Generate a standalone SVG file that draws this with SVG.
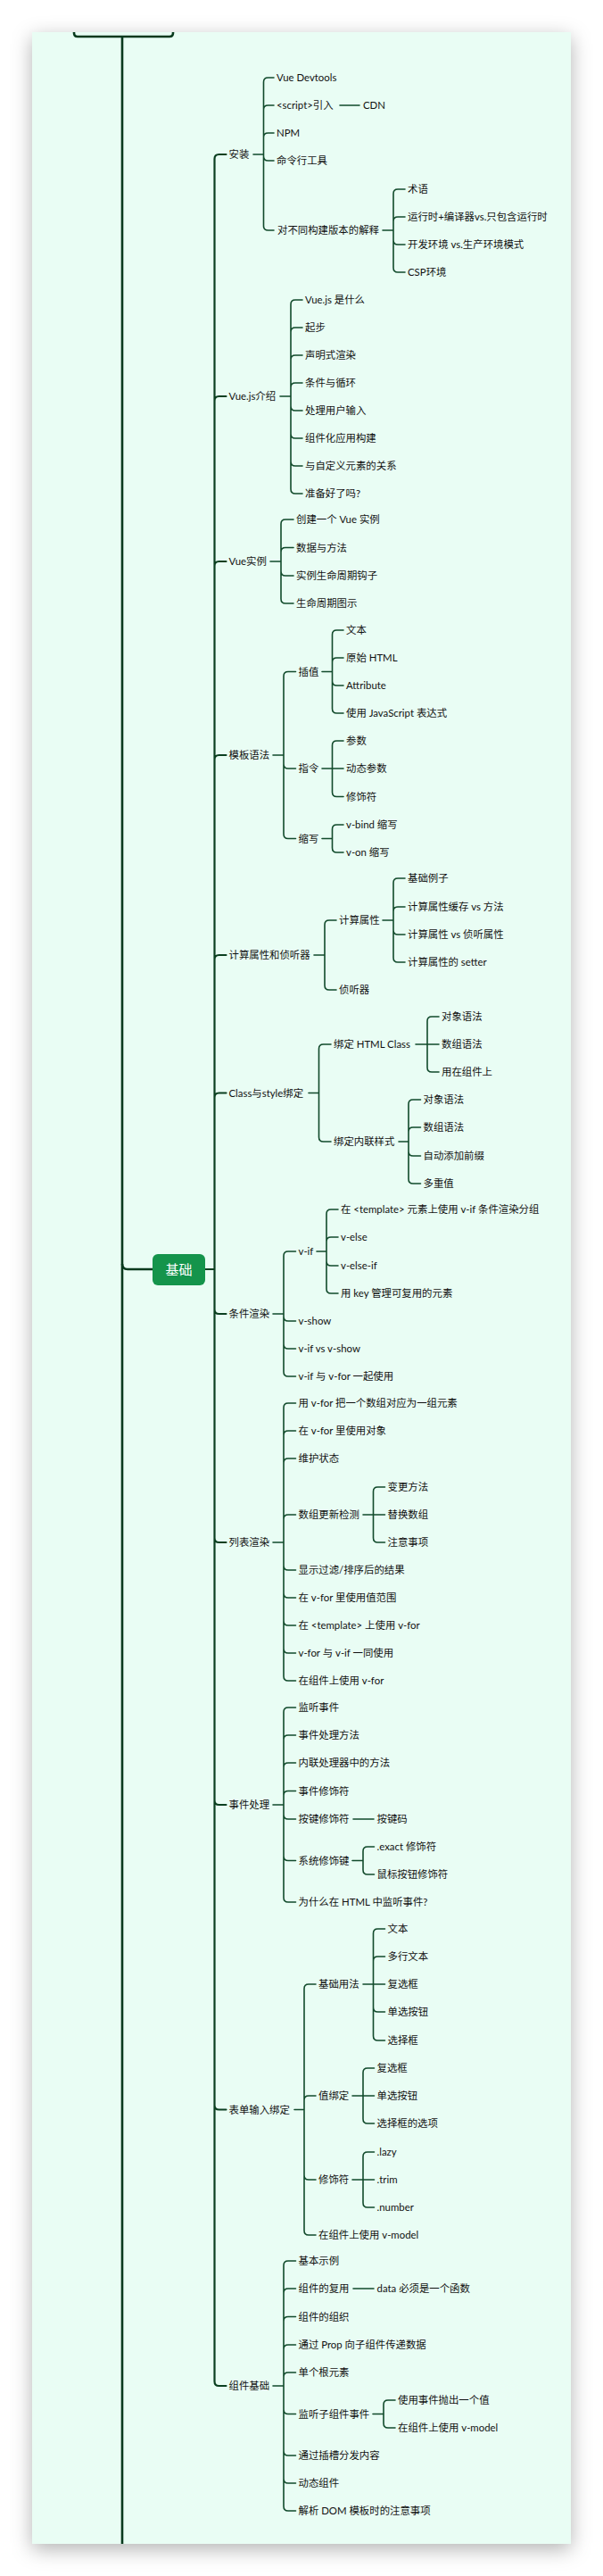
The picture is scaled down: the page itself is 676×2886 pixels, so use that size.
<svg xmlns="http://www.w3.org/2000/svg" width="676" height="2886" viewBox="0 0 676 2886">
<defs>
<filter id="sh" x="-10%" y="-3%" width="120%" height="106%">
<feDropShadow dx="0" dy="6" stdDeviation="11" flood-color="#000" flood-opacity="0.3"/>
</filter>
<clipPath id="pc"><rect x="36" y="36" width="604" height="2814"/></clipPath>
<style>
text{font-family:Lato,"Noto Sans CJK SC","Noto Sans",sans-serif;font-size:11.4px;fill:#111;}
.c{fill:none;stroke:#114a2b;stroke-width:1.6;stroke-linecap:round;}
.c1{fill:none;stroke:#0b3f20;stroke-width:2.2;stroke-linecap:round;}
.c0{fill:none;stroke:#083a1d;stroke-width:2.6;}
.root{fill:#fff;font-size:15px;}
</style>
</defs>
<rect width="676" height="2886" fill="#ffffff"/>
<rect x="36" y="36" width="604" height="2814" fill="#e9fdf4" filter="url(#sh)"/>
<g id="connectors" clip-path="url(#pc)">
<path class="c0" d="M83,30 V37 Q83,41 87,41 H190 Q194,41 194,37 V30"/>
<path class="c0" d="M137,41 V2860"/>
<path class="c0" d="M137,1416 Q137,1422 143,1422 H171"/>
<path class="c1" d="M230,1422 H240.5 M240.5,178 V2668
M240.5,178 Q240.5,173 245.5,173 H253.5
M240.5,449 Q240.5,444 245.5,444 H253.5
M240.5,634 Q240.5,629 245.5,629 H253.5
M240.5,851 Q240.5,846 245.5,846 H253.5
M240.5,1075 Q240.5,1070 245.5,1070 H253.5
M240.5,1229.5 Q240.5,1224.5 245.5,1224.5 H253.5
M240.5,1467 Q240.5,1472 245.5,1472 H253.5
M240.5,1723 Q240.5,1728 245.5,1728 H253.5
M240.5,2017 Q240.5,2022 245.5,2022 H253.5
M240.5,2358.5 Q240.5,2363.5 245.5,2363.5 H253.5
M240.5,2668 Q240.5,2673 245.5,2673 H253.5"/>
<path class="c" d="M284,173 H295.5 M295.5,92 V253
M295.5,92 Q295.5,87 300.5,87 H307
M295.5,123 Q295.5,118 300.5,118 H307
M295.5,154 Q295.5,149 300.5,149 H307
M295.5,175 Q295.5,180 300.5,180 H307
M295.5,253 Q295.5,258 300.5,258 H307
M381,118 H403
M429,258 H441 M441,217 V300
M441,217 Q441,212 446,212 H454
M441,248 Q441,243 446,243 H454
M441,269 Q441,274 446,274 H454
M441,300 Q441,305 446,305 H454"/>
<path class="c" d="M314,444 H326 M326,341 V548
M326,341 Q326,336 331,336 H339
M326,372 Q326,367 331,367 H339
M326,403 Q326,398 331,398 H339
M326,434 Q326,429 331,429 H339
M326,455 Q326,460 331,460 H339
M326,486 Q326,491 331,491 H339
M326,517 Q326,522 331,522 H339
M326,548 Q326,553 331,553 H339"/>
<path class="c" d="M303,629 H315 M315,587 V671
M315,587 Q315,582 320,582 H329
M315,618.5 Q315,613.5 320,613.5 H329
M315,640 Q315,645 320,645 H329
M315,671 Q315,676 320,676 H329"/>
<path class="c" d="M306,846 H318 M318,757.5 V934.5
M318,757.5 Q318,752.5 323,752.5 H331.5
M318,856 Q318,861 323,861 H331.5
M318,934.5 Q318,939.5 323,939.5 H331.5
M361,752.5 H372.5 M372.5,711 V794
M372.5,711 Q372.5,706 377.5,706 H385
M372.5,742 Q372.5,737 377.5,737 H385
M372.5,763 Q372.5,768 377.5,768 H385
M372.5,794 Q372.5,799 377.5,799 H385
M361,861 H385 M372.5,835 V887.5
M372.5,835 Q372.5,830 377.5,830 H385
M372.5,887.5 Q372.5,892.5 377.5,892.5 H385
M361,939.5 H372.5 M372.5,929 V950
M372.5,929 Q372.5,924 377.5,924 H385
M372.5,950 Q372.5,955 377.5,955 H385"/>
<path class="c" d="M352,1070 H364 M364,1036 V1104
M364,1036 Q364,1031 369,1031 H377
M364,1104 Q364,1109 369,1109 H377
M429,1031 H441 M441,989 V1073
M441,989 Q441,984 446,984 H454
M441,1021 Q441,1016 446,1016 H454
M441,1042 Q441,1047 446,1047 H454
M441,1073 Q441,1078 446,1078 H454"/>
<path class="c" d="M346,1224.5 H357.5 M357.5,1175 V1274
M357.5,1175 Q357.5,1170 362.5,1170 H371
M357.5,1274 Q357.5,1279 362.5,1279 H371
M466,1170 H492 M479,1144 V1196
M479,1144 Q479,1139 484,1139 H492
M479,1196 Q479,1201 484,1201 H492
M447,1279 H458 M458,1237 V1321
M458,1237 Q458,1232 463,1232 H471.5
M458,1268 Q458,1263 463,1263 H471.5
M458,1290 Q458,1295 463,1295 H471.5
M458,1321 Q458,1326 463,1326 H471.5"/>
<path class="c" d="M306,1472 H318 M318,1407 V1537
M318,1407 Q318,1402 323,1402 H331.5
M318,1475 Q318,1480 323,1480 H331.5
M318,1506 Q318,1511 323,1511 H331.5
M318,1537 Q318,1542 323,1542 H331.5
M355,1402 H366 M366,1360 V1444
M366,1360 Q366,1355 371,1355 H379
M366,1391 Q366,1386 371,1386 H379
M366,1413 Q366,1418 371,1418 H379
M366,1444 Q366,1449 371,1449 H379"/>
<path class="c" d="M306,1728 H318 M318,1577 V1878
M318,1577 Q318,1572 323,1572 H331.5
M318,1608 Q318,1603 323,1603 H331.5
M318,1639 Q318,1634 323,1634 H331.5
M318,1702 Q318,1697 323,1697 H331.5
M318,1754 Q318,1759 323,1759 H331.5
M318,1785 Q318,1790 323,1790 H331.5
M318,1816 Q318,1821 323,1821 H331.5
M318,1847 Q318,1852 323,1852 H331.5
M318,1878 Q318,1883 323,1883 H331.5
M407,1697 H431.5 M418.5,1671 V1723
M418.5,1671 Q418.5,1666 423.5,1666 H431.5
M418.5,1723 Q418.5,1728 423.5,1728 H431.5"/>
<path class="c" d="M306,2022 H318 M318,1918 V2126
M318,1918 Q318,1913 323,1913 H331.5
M318,1949 Q318,1944 323,1944 H331.5
M318,1980 Q318,1975 323,1975 H331.5
M318,2011.5 Q318,2006.5 323,2006.5 H331.5
M318,2033 Q318,2038 323,2038 H331.5
M318,2079.5 Q318,2084.5 323,2084.5 H331.5
M318,2126 Q318,2131 323,2131 H331.5
M396,2038 H419
M395,2084.5 H407 M407,2074 V2095
M407,2074 Q407,2069 412,2069 H419.5
M407,2095 Q407,2100 412,2100 H419.5"/>
<path class="c" d="M330,2363.5 H341 M341,2228 V2499
M341,2228 Q341,2223 346,2223 H354
M341,2353 Q341,2348 346,2348 H354
M341,2437 Q341,2442 346,2442 H354
M341,2499 Q341,2504 346,2504 H354
M407,2223 H431.5 M418.5,2166 V2281
M418.5,2166 Q418.5,2161 423.5,2161 H431.5
M418.5,2197 Q418.5,2192 423.5,2192 H431.5
M418.5,2249 Q418.5,2254 423.5,2254 H431.5
M418.5,2281 Q418.5,2286 423.5,2286 H431.5
M395,2348 H419.5 M407,2322 V2374
M407,2322 Q407,2317 412,2317 H419.5
M407,2374 Q407,2379 412,2379 H419.5
M395,2442 H419.5 M407,2416 V2468
M407,2416 Q407,2411 412,2411 H419.5
M407,2468 Q407,2473 412,2473 H419.5"/>
<path class="c" d="M306,2673 H318 M318,2538 V2808
M318,2538 Q318,2533 323,2533 H331.5
M318,2569 Q318,2564 323,2564 H331.5
M318,2600.5 Q318,2595.5 323,2595.5 H331.5
M318,2632 Q318,2627 323,2627 H331.5
M318,2663 Q318,2658 323,2658 H331.5
M318,2699.5 Q318,2704.5 323,2704.5 H331.5
M318,2746 Q318,2751 323,2751 H331.5
M318,2777 Q318,2782 323,2782 H331.5
M318,2808 Q318,2813 323,2813 H331.5
M396,2564 H419
M418,2704.5 H430 M430,2694 V2715
M430,2694 Q430,2689 435,2689 H443
M430,2715 Q430,2720 435,2720 H443"/>
</g>
<g id="n-jichu"><rect x="171" y="1405" width="59" height="35" rx="6" fill="#14944b"/><text class="root" x="200.5" y="1427.5" text-anchor="middle">基础</text></g>
<g id="n-anzhuang"><text x="256.5" y="177">安装</text></g>
<g id="n-az1"><text x="310" y="91">Vue Devtools</text></g>
<g id="n-az2"><text x="310" y="122">&lt;script&gt;引入</text></g>
<g id="n-az2-1"><text x="407" y="122">CDN</text></g>
<g id="n-az3"><text x="310" y="153">NPM</text></g>
<g id="n-az4"><text x="310" y="184">命令行工具</text></g>
<g id="n-az5"><text x="311" y="262">对不同构建版本的解释</text></g>
<g id="n-az5-1"><text x="457" y="216">术语</text></g>
<g id="n-az5-2"><text x="457" y="247">运行时+编译器vs.只包含运行时</text></g>
<g id="n-az5-3"><text x="457" y="278">开发环境 vs.生产环境模式</text></g>
<g id="n-az5-4"><text x="457" y="309">CSP环境</text></g>
<g id="n-intro"><text x="256.5" y="448">Vue.js介绍</text></g>
<g id="n-in1"><text x="342" y="340">Vue.js 是什么</text></g>
<g id="n-in2"><text x="342" y="371">起步</text></g>
<g id="n-in3"><text x="342" y="402">声明式渲染</text></g>
<g id="n-in4"><text x="342" y="433">条件与循环</text></g>
<g id="n-in5"><text x="342" y="464">处理用户输入</text></g>
<g id="n-in6"><text x="342" y="495">组件化应用构建</text></g>
<g id="n-in7"><text x="342" y="526">与自定义元素的关系</text></g>
<g id="n-in8"><text x="342" y="557">准备好了吗?</text></g>
<g id="n-inst"><text x="256.5" y="633">Vue实例</text></g>
<g id="n-is1"><text x="332" y="586">创建一个 Vue 实例</text></g>
<g id="n-is2"><text x="332" y="617.5">数据与方法</text></g>
<g id="n-is3"><text x="332" y="649">实例生命周期钩子</text></g>
<g id="n-is4"><text x="332" y="680">生命周期图示</text></g>
<g id="n-tpl"><text x="256.5" y="850">模板语法</text></g>
<g id="n-tp1"><text x="334.5" y="756.5">插值</text></g>
<g id="n-tp1-1"><text x="388" y="710">文本</text></g>
<g id="n-tp1-2"><text x="388" y="741">原始 HTML</text></g>
<g id="n-tp1-3"><text x="388" y="772">Attribute</text></g>
<g id="n-tp1-4"><text x="388" y="803">使用 JavaScript 表达式</text></g>
<g id="n-tp2"><text x="334.5" y="865">指令</text></g>
<g id="n-tp2-1"><text x="388" y="834">参数</text></g>
<g id="n-tp2-2"><text x="388" y="865">动态参数</text></g>
<g id="n-tp2-3"><text x="388" y="896.5">修饰符</text></g>
<g id="n-tp3"><text x="334.5" y="943.5">缩写</text></g>
<g id="n-tp3-1"><text x="388" y="928">v-bind 缩写</text></g>
<g id="n-tp3-2"><text x="388" y="959">v-on 缩写</text></g>
<g id="n-comp"><text x="256.5" y="1074">计算属性和侦听器</text></g>
<g id="n-cp1"><text x="380" y="1035">计算属性</text></g>
<g id="n-cp1-1"><text x="457" y="988">基础例子</text></g>
<g id="n-cp1-2"><text x="457" y="1020">计算属性缓存 vs 方法</text></g>
<g id="n-cp1-3"><text x="457" y="1051">计算属性 vs 侦听属性</text></g>
<g id="n-cp1-4"><text x="457" y="1082">计算属性的 setter</text></g>
<g id="n-cp2"><text x="380" y="1113">侦听器</text></g>
<g id="n-cls"><text x="256.5" y="1228.5">Class与style绑定</text></g>
<g id="n-cl1"><text x="374" y="1174">绑定 HTML Class</text></g>
<g id="n-cl1-1"><text x="495" y="1143">对象语法</text></g>
<g id="n-cl1-2"><text x="495" y="1174">数组语法</text></g>
<g id="n-cl1-3"><text x="495" y="1205">用在组件上</text></g>
<g id="n-cl2"><text x="374" y="1283">绑定内联样式</text></g>
<g id="n-cl2-1"><text x="474.5" y="1236">对象语法</text></g>
<g id="n-cl2-2"><text x="474.5" y="1267">数组语法</text></g>
<g id="n-cl2-3"><text x="474.5" y="1299">自动添加前缀</text></g>
<g id="n-cl2-4"><text x="474.5" y="1330">多重值</text></g>
<g id="n-cond"><text x="256.5" y="1476">条件渲染</text></g>
<g id="n-cd1"><text x="334.5" y="1406">v-if</text></g>
<g id="n-cd1-1"><text x="382" y="1359">在 &lt;template&gt; 元素上使用 v-if 条件渲染分组</text></g>
<g id="n-cd1-2"><text x="382" y="1390">v-else</text></g>
<g id="n-cd1-3"><text x="382" y="1422">v-else-if</text></g>
<g id="n-cd1-4"><text x="382" y="1453">用 key 管理可复用的元素</text></g>
<g id="n-cd2"><text x="334.5" y="1484">v-show</text></g>
<g id="n-cd3"><text x="334.5" y="1515">v-if vs v-show</text></g>
<g id="n-cd4"><text x="334.5" y="1546">v-if 与 v-for 一起使用</text></g>
<g id="n-list"><text x="256.5" y="1732">列表渲染</text></g>
<g id="n-ls1"><text x="334.5" y="1576">用 v-for 把一个数组对应为一组元素</text></g>
<g id="n-ls2"><text x="334.5" y="1607">在 v-for 里使用对象</text></g>
<g id="n-ls3"><text x="334.5" y="1638">维护状态</text></g>
<g id="n-ls4"><text x="334.5" y="1701">数组更新检测</text></g>
<g id="n-ls4-1"><text x="434.5" y="1670">变更方法</text></g>
<g id="n-ls4-2"><text x="434.5" y="1701">替换数组</text></g>
<g id="n-ls4-3"><text x="434.5" y="1732">注意事项</text></g>
<g id="n-ls5"><text x="334.5" y="1763">显示过滤/排序后的结果</text></g>
<g id="n-ls6"><text x="334.5" y="1794">在 v-for 里使用值范围</text></g>
<g id="n-ls7"><text x="334.5" y="1825">在 &lt;template&gt; 上使用 v-for</text></g>
<g id="n-ls8"><text x="334.5" y="1856">v-for 与 v-if 一同使用</text></g>
<g id="n-ls9"><text x="334.5" y="1887">在组件上使用 v-for</text></g>
<g id="n-evt"><text x="256.5" y="2026">事件处理</text></g>
<g id="n-ev1"><text x="334.5" y="1917">监听事件</text></g>
<g id="n-ev2"><text x="334.5" y="1948">事件处理方法</text></g>
<g id="n-ev3"><text x="334.5" y="1979">内联处理器中的方法</text></g>
<g id="n-ev4"><text x="334.5" y="2010.5">事件修饰符</text></g>
<g id="n-ev5"><text x="334.5" y="2042">按键修饰符</text></g>
<g id="n-ev5-1"><text x="422.5" y="2042">按键码</text></g>
<g id="n-ev6"><text x="334.5" y="2088.5">系统修饰键</text></g>
<g id="n-ev6-1"><text x="422.5" y="2073">.exact 修饰符</text></g>
<g id="n-ev6-2"><text x="422.5" y="2104">鼠标按钮修饰符</text></g>
<g id="n-ev7"><text x="334.5" y="2135">为什么在 HTML 中监听事件?</text></g>
<g id="n-form"><text x="256.5" y="2367.5">表单输入绑定</text></g>
<g id="n-fm1"><text x="357" y="2227">基础用法</text></g>
<g id="n-fm1-1"><text x="434.5" y="2165">文本</text></g>
<g id="n-fm1-2"><text x="434.5" y="2196">多行文本</text></g>
<g id="n-fm1-3"><text x="434.5" y="2227">复选框</text></g>
<g id="n-fm1-4"><text x="434.5" y="2258">单选按钮</text></g>
<g id="n-fm1-5"><text x="434.5" y="2290">选择框</text></g>
<g id="n-fm2"><text x="357" y="2352">值绑定</text></g>
<g id="n-fm2-1"><text x="422.5" y="2321">复选框</text></g>
<g id="n-fm2-2"><text x="422.5" y="2352">单选按钮</text></g>
<g id="n-fm2-3"><text x="422.5" y="2383">选择框的选项</text></g>
<g id="n-fm3"><text x="357" y="2446">修饰符</text></g>
<g id="n-fm3-1"><text x="422.5" y="2415">.lazy</text></g>
<g id="n-fm3-2"><text x="422.5" y="2446">.trim</text></g>
<g id="n-fm3-3"><text x="422.5" y="2477">.number</text></g>
<g id="n-fm4"><text x="357" y="2508">在组件上使用 v-model</text></g>
<g id="n-cbase"><text x="256.5" y="2677">组件基础</text></g>
<g id="n-cb1"><text x="334.5" y="2537">基本示例</text></g>
<g id="n-cb2"><text x="334.5" y="2568">组件的复用</text></g>
<g id="n-cb2-1"><text x="422.5" y="2568">data 必须是一个函数</text></g>
<g id="n-cb3"><text x="334.5" y="2599.5">组件的组织</text></g>
<g id="n-cb4"><text x="334.5" y="2631">通过 Prop 向子组件传递数据</text></g>
<g id="n-cb5"><text x="334.5" y="2662">单个根元素</text></g>
<g id="n-cb6"><text x="334.5" y="2708.5">监听子组件事件</text></g>
<g id="n-cb6-1"><text x="446" y="2693">使用事件抛出一个值</text></g>
<g id="n-cb6-2"><text x="446" y="2724">在组件上使用 v-model</text></g>
<g id="n-cb7"><text x="334.5" y="2755">通过插槽分发内容</text></g>
<g id="n-cb8"><text x="334.5" y="2786">动态组件</text></g>
<g id="n-cb9"><text x="334.5" y="2817">解析 DOM 模板时的注意事项</text></g>
</svg>
